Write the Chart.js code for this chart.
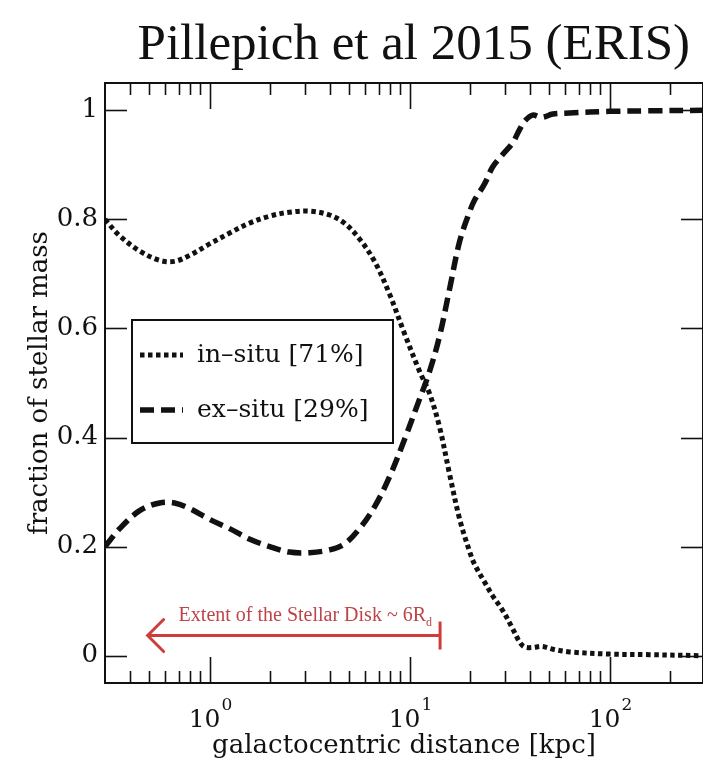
<!DOCTYPE html>
<html><head><meta charset="utf-8">
<script src="https://cdn.jsdelivr.net/npm/chart.js@4.4.0/dist/chart.umd.min.js"></script>
<style>
html,body{margin:0;padding:0;background:#fff;overflow:hidden;width:703px;height:760px}
#wrap{position:relative;width:715px;height:760px}
canvas{display:block}
</style></head>
<body><div id="wrap"><canvas id="c" width="715" height="760"></canvas></div>
<script>
// ---- data ----
const distanceKpc = [0.30, 0.355, 0.447, 0.562, 0.668, 0.794, 1.0, 1.26, 1.58, 2.0, 2.51, 3.16, 3.98, 4.73, 5.62, 6.68, 7.94, 9.44, 11.2, 12.6, 14.1, 15.8, 17.8, 20.0, 21.1, 23.7, 26.0, 29.2, 32.7, 35.5, 37.6, 41.2, 45.7, 52, 63, 100, 158, 293];
const inSitu = [0.80, 0.77, 0.742, 0.725, 0.723, 0.734, 0.755, 0.775, 0.793, 0.806, 0.813, 0.815, 0.808, 0.793, 0.764, 0.723, 0.663, 0.59, 0.522, 0.48, 0.42, 0.335, 0.25, 0.19, 0.168, 0.135, 0.11, 0.083, 0.05, 0.025, 0.016, 0.015, 0.017, 0.012, 0.007, 0.003, 0.002, 0.0];
const exSitu = [0.20, 0.233, 0.266, 0.28, 0.28, 0.27, 0.25, 0.233, 0.214, 0.20, 0.19, 0.189, 0.194, 0.205, 0.233, 0.273, 0.328, 0.397, 0.47, 0.522, 0.585, 0.67, 0.76, 0.815, 0.835, 0.865, 0.896, 0.919, 0.94, 0.965, 0.98, 0.991, 0.987, 0.993, 0.995, 0.998, 0.999, 1.0];
const seriesLabels = ['in–situ [71%]', 'ex–situ [29%]'];
const yTickValues = [0, 0.2, 0.4, 0.6, 0.8, 1];
const xDecadeValues = [1, 10, 100];
const xDecadeExponents = ['0', '1', '2'];
const xRange = [0.3, 293];
const yRange = [-0.05, 1.05];
const titleText = 'Pillepich et al 2015 (ERIS)';
const xTitle = 'galactocentric distance [kpc]';
const yTitle = 'fraction of stellar mass';
const diskArrowKpc = [0.49, 14.2];
const diskArrowFrac = 0.037;
const diskLabel = 'Extent of the Stellar Disk ~ 6R';
const diskLabelSub = 'd';

const SERIF = '"DejaVu Serif", serif';
const TIMES = '"Liberation Serif", serif';

const toPts = (ys) => distanceKpc.map((x, i) => ({x, y: ys[i]}));

const decor = {
  id: 'decor',
  afterDraw(chart) {
    const {ctx, chartArea: a, scales: {x, y}} = chart;
    ctx.save();
    const line = (x1, y1, x2, y2) => { ctx.beginPath(); ctx.moveTo(x1, y1); ctx.lineTo(x2, y2); ctx.stroke(); };
    // frame
    ctx.strokeStyle = '#111'; ctx.lineWidth = 2;
    ctx.strokeRect(a.left, a.top, a.right - a.left, a.bottom - a.top);
    // x ticks (log, major + minor), bottom and top, inward
    ctx.lineWidth = 1.6;
    const d0 = Math.floor(Math.log10(x.min)), d1 = Math.ceil(Math.log10(x.max));
    for (let d = d0; d <= d1; d++) {
      for (let m = 1; m <= 9; m++) {
        const v = m * Math.pow(10, d);
        if (v <= x.min * 1.0001 || v >= x.max) continue;
        const px = Math.round(x.getPixelForValue(v)) + 0.5;
        const len = m === 1 ? 26 : 12;
        line(px, a.bottom, px, a.bottom - len);
        line(px, a.top, px, a.top + len);
      }
    }
    // y ticks left and right
    yTickValues.forEach(v => {
      const py = Math.round(y.getPixelForValue(v)) + 0.5;
      line(a.left, py, a.left + 22, py);
      line(a.right, py, a.right - 22, py);
    });
    // x tick labels 10^n
    ctx.fillStyle = '#111';
    ctx.textBaseline = 'alphabetic';
    xDecadeValues.forEach((v, i) => {
      const px = x.getPixelForValue(v);
      ctx.font = '25px ' + SERIF;
      ctx.textAlign = 'center';
      ctx.fillText('10', px - 5, 727);
      const w = ctx.measureText('10').width;
      ctx.font = '17px ' + SERIF;
      ctx.textAlign = 'left';
      ctx.fillText(xDecadeExponents[i], px - 5 + w / 2 + 1, 710);
    });
    // legend
    const L = {x: 132, y: 320, w: 261, h: 123};
    ctx.fillStyle = '#fff';
    ctx.fillRect(L.x, L.y, L.w, L.h);
    ctx.strokeStyle = '#111'; ctx.lineWidth = 2;
    ctx.strokeRect(L.x, L.y, L.w, L.h);
    chart.data.datasets.forEach((ds, i) => {
      const ry = [355, 410][i];
      ctx.save();
      ctx.strokeStyle = ds.borderColor; ctx.lineWidth = ds.borderWidth;
      ctx.setLineDash(ds.borderDash); ctx.lineCap = 'butt';
      line(140, ry, 183, ry);
      ctx.restore();
      ctx.fillStyle = '#111';
      ctx.font = '25px ' + SERIF;
      ctx.textAlign = 'left'; ctx.textBaseline = 'middle';
      ctx.fillText(ds.label, 197, ry);
    });
    // disk extent arrow
    const ax1 = x.getPixelForValue(diskArrowKpc[0]);
    const ax2 = x.getPixelForValue(diskArrowKpc[1]);
    const ay = y.getPixelForValue(diskArrowFrac);
    ctx.strokeStyle = '#d03c3c'; ctx.lineWidth = 3; ctx.lineCap = 'butt';
    line(ax1, ay, ax2, ay);
    line(ax2, ay - 14, ax2, ay + 14);
    ctx.lineCap = 'round';
    ctx.beginPath(); ctx.moveTo(ax1 + 16, ay - 16); ctx.lineTo(ax1, ay); ctx.lineTo(ax1 + 16, ay + 16); ctx.stroke();
    ctx.fillStyle = '#bd4447';
    ctx.textBaseline = 'alphabetic';
    ctx.font = '12px ' + TIMES;
    const sw = ctx.measureText(diskLabelSub).width;
    ctx.font = '20px ' + TIMES;
    const mw = ctx.measureText(diskLabel).width;
    const tEnd = ax2 - 8;
    ctx.textAlign = 'left';
    ctx.fillText(diskLabel, tEnd - sw - mw, ay - 15);
    ctx.font = '12px ' + TIMES;
    ctx.fillText(diskLabelSub, tEnd - sw, ay - 10);
    // title
    ctx.fillStyle = '#111';
    ctx.font = '51px ' + TIMES;
    ctx.textAlign = 'right';
    ctx.fillText(titleText, 690, 59);
    ctx.restore();
  }
};

new Chart(document.getElementById('c'), {
  type: 'line',
  data: {
    datasets: [
      {label: seriesLabels[0], data: toPts(inSitu), borderColor: '#111', borderWidth: 5, borderDash: [4.5, 3.5], pointRadius: 0, tension: 0.35, fill: false},
      {label: seriesLabels[1], data: toPts(exSitu), borderColor: '#111', borderWidth: 5.5, borderDash: [14, 7], pointRadius: 0, tension: 0.35, fill: false}
    ]
  },
  options: {
    responsive: false, animation: false, devicePixelRatio: 1,
    layout: {padding: {top: 83, right: 12, bottom: 0, left: 0}},
    plugins: {legend: {display: false}, tooltip: {enabled: false}, title: {display: false}},
    scales: {
      x: {
        type: 'logarithmic', min: xRange[0], max: xRange[1],
        grid: {display: false, drawTicks: false}, border: {display: false},
        ticks: {display: false},
        title: {display: true, text: xTitle, color: '#111', font: {family: SERIF, size: 26, lineHeight: 1}, padding: {top: 0, bottom: 1}},
        afterFit(s) { s.height = 77; }
      },
      y: {
        type: 'linear', min: yRange[0], max: yRange[1],
        grid: {display: false, drawTicks: false}, border: {display: false},
        afterBuildTicks(s) { s.ticks = yTickValues.map(v => ({value: v})); },
        ticks: {color: '#111', padding: 7, font: {family: SERIF, size: 26}, callback: v => String(+v.toFixed(1))},
        title: {display: true, text: yTitle, color: '#111', font: {family: SERIF, size: 26, lineHeight: 1}, padding: {top: 27, bottom: 0}},
        afterFit(s) { s.width = 105; }
      }
    }
  },
  plugins: [decor]
});
</script>
</body></html>
